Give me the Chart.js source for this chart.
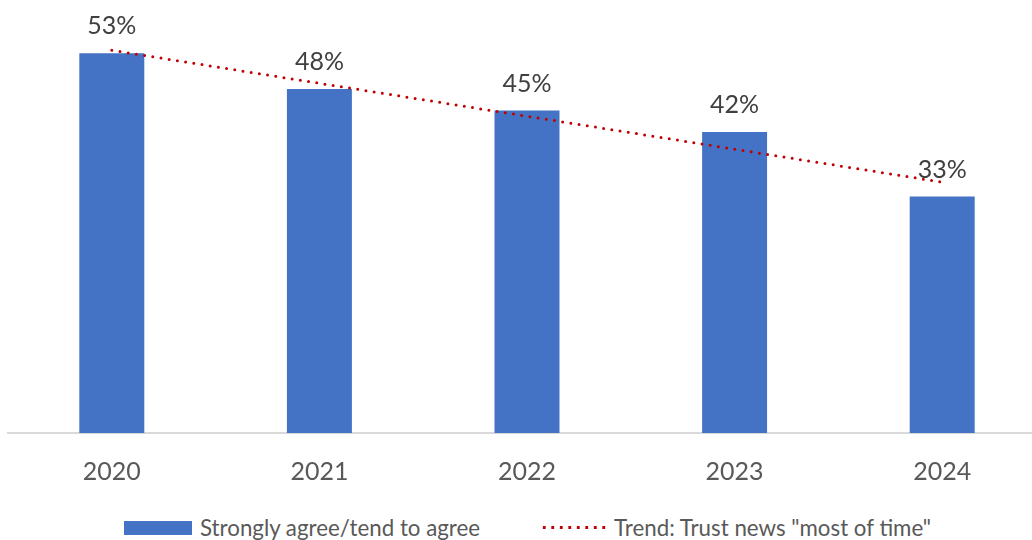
<!DOCTYPE html>
<html>
<head>
<meta charset="utf-8">
<script src="https://cdn.jsdelivr.net/npm/chart.js@4.4.1/dist/chart.umd.min.js"></script>
<style>
  html, body { margin: 0; padding: 0; background: #fff; overflow: hidden; width: 1032px; height: 540px; }
  #wrap { position: relative; width: 1032px; height: 540px; overflow: hidden; }
  canvas { position: absolute; left: 0; top: 0; }
  .legend { position: absolute; top: 514px; left: 124px; display: flex; align-items: center;
            font-family: Lato, "Open Sans", sans-serif; font-size: 22.3px; color: #595959; white-space: nowrap; }
  .legend .box { width: 68px; height: 14px; background: #4472C4; margin-right: 8px; }
  .legend .dots { width: 70px; height: 3px; margin-left: 60px; margin-right: 4px;
                  background-image: radial-gradient(circle, #C00000 1.6px, transparent 1.8px);
                  background-size: 8.5px 3px; background-repeat: repeat-x; }
</style>
</head>
<body>
<div id="wrap">
  <canvas id="chart" width="1046" height="505"></canvas>
  <div class="legend">
    <span class="box"></span><span>Strongly agree/tend to agree</span>
    <span class="dots"></span><span>Trend: Trust news "most of time"</span>
  </div>
</div>
<script>
  // ----- data -----
  const years = ['2020', '2021', '2022', '2023', '2024'];
  const agreeValues = [53, 48, 45, 42, 33];
  // linear trend line as drawn in the original
  const trendValues = [53.4, 48.8, 44.2, 39.6, 35.0];

  // labels above bars (e.g. "53%")
  const barLabels = {
    id: 'barLabels',
    afterDatasetsDraw(chart) {
      const ctx = chart.ctx;
      const meta = chart.getDatasetMeta(1); // the bar dataset
      ctx.save();
      ctx.font = '25px Lato, "Open Sans", sans-serif';
      ctx.fillStyle = '#404040';
      ctx.textAlign = 'center';
      ctx.textBaseline = 'alphabetic';
      meta.data.forEach((bar, i) => {
        ctx.fillText(agreeValues[i] + '%', bar.x, bar.y - 19);
      });
      ctx.restore();
    }
  };

  const ctx = document.getElementById('chart').getContext('2d');
  new Chart(ctx, {
    data: {
      labels: years,
      datasets: [
        {
          type: 'line',
          label: 'Trend: Trust news "most of time"',
          data: trendValues,
          borderColor: '#C00000',
          borderWidth: 3,
          borderDash: [0, 8.3],
          borderCapStyle: 'round',
          pointRadius: 0,
          fill: false,
          tension: 0,
          order: 0
        },
        {
          type: 'bar',
          label: 'Strongly agree/tend to agree',
          data: agreeValues,
          backgroundColor: '#4472C4',
          barPercentage: 0.313,
          categoryPercentage: 1,
          order: 1
        }
      ]
    },
    options: {
      responsive: false,
      animation: false,
      layout: { padding: { left: 8, right: 0, top: 3, bottom: 0 } },
      plugins: { legend: { display: false }, tooltip: { enabled: false } },
      scales: {
        x: {
          grid: { display: false, drawTicks: false },
          border: { color: '#d9d9d9', width: 2 },
          ticks: { color: '#595959', font: { family: 'Lato, "Open Sans", sans-serif', size: 25 }, padding: 24 },
          afterFit: s => { s.height = 72; }
        },
        y: {
          display: false,
          min: 0,
          max: 60
        }
      }
    },
    plugins: [barLabels]
  });
</script>
</body>
</html>
